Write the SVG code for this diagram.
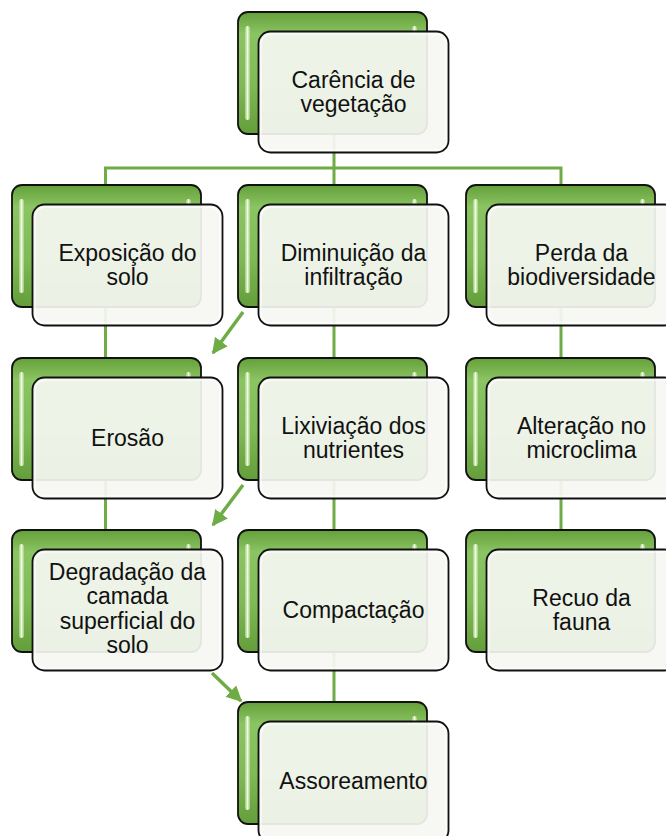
<svg xmlns="http://www.w3.org/2000/svg" width="666" height="836" viewBox="0 0 666 836">
<defs>
<linearGradient id="g" x1="0" y1="0" x2="0" y2="1">
<stop offset="0" stop-color="#64a03a"/>
<stop offset="0.18" stop-color="#8bc463"/>
<stop offset="0.6" stop-color="#80b957"/>
<stop offset="1" stop-color="#639e3a"/>
</linearGradient>
<linearGradient id="hl" x1="0" y1="0" x2="1" y2="0">
<stop offset="0" stop-color="#b9e096" stop-opacity="0.6"/>
<stop offset="0.5" stop-color="#f2fbe6"/>
<stop offset="1" stop-color="#b9e096" stop-opacity="0.6"/>
</linearGradient>
<marker id="ah" viewBox="0 0 10 10" refX="9" refY="5" markerWidth="4.5" markerHeight="5" orient="auto" markerUnits="strokeWidth">
<path d="M0,0 L10,5 L0,10 z" fill="#6eac45"/>
</marker>
<g id="node">
<rect class="back" x="0" y="0" width="189" height="122" rx="10"/>
<rect class="hl" x="7" y="14" width="5" height="94" rx="2.5"/>
<rect class="hl" x="174" y="14" width="5" height="8" rx="2.5"/>
<rect class="front" x="20.5" y="19.5" width="190" height="121" rx="12"/>
<rect class="inner" x="23" y="22" width="185" height="116" rx="10"/>
</g>
</defs>
<style>
.back{fill:url(#g);stroke:#111;stroke-width:1.8}
.hl{fill:url(#hl)}
.front{fill:#f6f7f3;fill-opacity:0.92;stroke:#111;stroke-width:1.8}
.inner{fill:none;stroke:#ffffff;stroke-opacity:0.7;stroke-width:1.5}
.c{fill:none;stroke:#6eac45;stroke-width:3}
.a{fill:none;stroke:#6eac45;stroke-width:3.5;marker-end:url(#ah)}
text{font-family:"Liberation Sans",Arial,sans-serif;font-size:23px;fill:#111;text-anchor:middle}
</style>
<g id="connectors">
<path class="c" d="M334,135 V185 M105.5,185 V168 H561 V185"/>
<path class="c" d="M105.5,307 V358 M105.5,479 V530"/>
<path class="c" d="M334,307 V358 M334,479 V530 M334,651 V702"/>
<path class="c" d="M561,307 V358 M561,479 V530"/>
<path class="a" d="M243,312 L213,353"/>
<path class="a" d="M243,485 L213,525"/>
<path class="a" d="M212,673 L241,701"/>
</g>
<g id="n-carencia"><use href="#node" x="238" y="12"/><text x="353.5" y="88">Carência de</text><text x="353.5" y="112">vegetação</text></g>
<g id="n-exposicao"><use href="#node" x="12" y="185"/><text x="127.5" y="261">Exposição do</text><text x="127.5" y="285">solo</text></g>
<g id="n-diminuicao"><use href="#node" x="238" y="185"/><text x="353.5" y="261">Diminuição da</text><text x="353.5" y="285">infiltração</text></g>
<g id="n-perda"><use href="#node" x="466" y="185"/><text x="581.5" y="261">Perda da</text><text x="581.5" y="285">biodiversidade</text></g>
<g id="n-erosao"><use href="#node" x="12" y="358"/><text x="127.5" y="446">Erosão</text></g>
<g id="n-lixiviacao"><use href="#node" x="238" y="358"/><text x="353.5" y="434">Lixiviação dos</text><text x="353.5" y="458">nutrientes</text></g>
<g id="n-alteracao"><use href="#node" x="466" y="358"/><text x="581.5" y="434">Alteração no</text><text x="581.5" y="458">microclima</text></g>
<g id="n-degradacao"><use href="#node" x="12" y="530"/><text x="127.5" y="580">Degradação da</text><text x="127.5" y="604.3">camada</text><text x="127.5" y="628.6">superficial do</text><text x="127.5" y="652.9">solo</text></g>
<g id="n-compactacao"><use href="#node" x="238" y="530"/><text x="353.5" y="618">Compactação</text></g>
<g id="n-recuo"><use href="#node" x="466" y="530"/><text x="581.5" y="606">Recuo da</text><text x="581.5" y="630">fauna</text></g>
<g id="n-assoreamento"><use href="#node" x="238" y="702"/><text x="353.5" y="789">Assoreamento</text></g>
</svg>
